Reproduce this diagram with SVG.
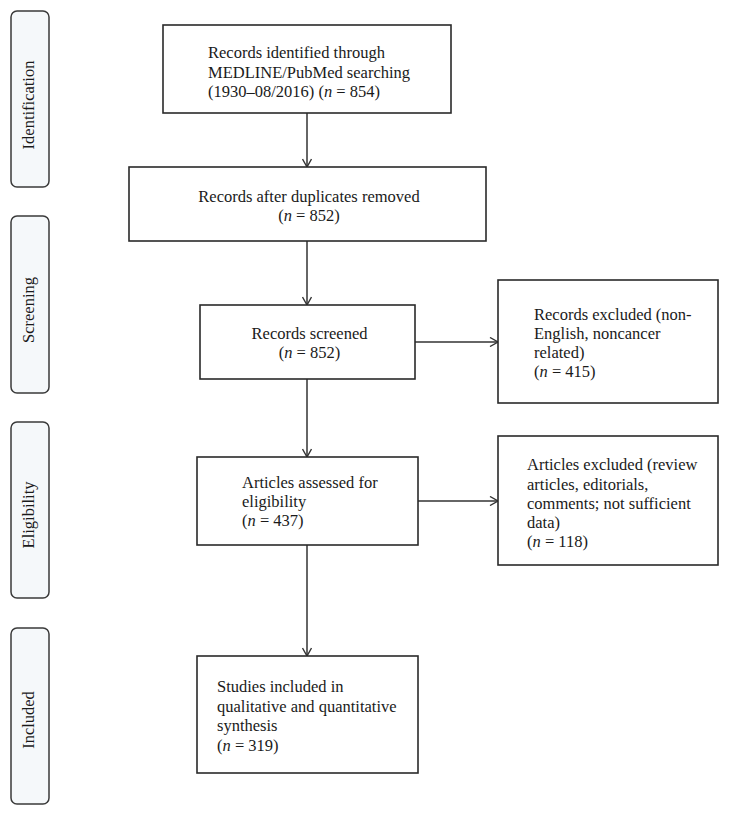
<svg xmlns="http://www.w3.org/2000/svg" width="729" height="815" viewBox="0 0 729 815">
<defs>
<style>
.bg{fill:#ffffff}
.stage{fill:#f5f8fa;stroke:#3a3a3a;stroke-width:1.5}
.box{fill:#ffffff;stroke:#2a2a2a;stroke-width:1.6}
.t{font-family:"Liberation Serif","Times New Roman",serif;font-size:16.5px;fill:#1a1a1a}
.c{text-anchor:middle}
.i{font-style:italic}
.edge{fill:none;stroke:#333333;stroke-width:1.5}
</style>
<marker id="arr" viewBox="0 0 10 10" refX="9" refY="5" markerWidth="10" markerHeight="10" markerUnits="userSpaceOnUse" orient="auto">
<path d="M1,0.5 L9,5 L1,9.5" fill="none" stroke="#333333" stroke-width="1.4"/>
</marker>
</defs>
<rect class="bg" x="0" y="0" width="729" height="815"/>

<g id="stage-identification">
<rect class="stage" x="11" y="11" width="38" height="176" rx="6"/>
<text class="t c" transform="translate(34,105) rotate(-90)">Identification</text>
</g>
<g id="stage-screening">
<rect class="stage" x="11" y="216" width="38" height="177" rx="6"/>
<text class="t c" transform="translate(34,310) rotate(-90)">Screening</text>
</g>
<g id="stage-eligibility">
<rect class="stage" x="11" y="422" width="38" height="176" rx="6"/>
<text class="t c" transform="translate(34,515) rotate(-90)">Eligibility</text>
</g>
<g id="stage-included">
<rect class="stage" x="11" y="628" width="38" height="176" rx="6"/>
<text class="t c" transform="translate(34,720) rotate(-90)">Included</text>
</g>

<g id="connectors">
<line class="edge" x1="307" y1="113" x2="307" y2="167" marker-end="url(#arr)"/>
<line class="edge" x1="307" y1="241" x2="307" y2="305" marker-end="url(#arr)"/>
<line class="edge" x1="307" y1="379" x2="307" y2="457" marker-end="url(#arr)"/>
<line class="edge" x1="307" y1="545" x2="307" y2="656" marker-end="url(#arr)"/>
<line class="edge" x1="415" y1="342" x2="498" y2="342" marker-end="url(#arr)"/>
<line class="edge" x1="418" y1="501" x2="498" y2="501" marker-end="url(#arr)"/>
</g>

<g id="records-identified">
<rect class="box" x="163" y="25" width="288" height="88"/>
<text class="t" x="208" y="58">Records identified through</text>
<text class="t" x="208" y="77.5">MEDLINE/PubMed searching</text>
<text class="t" x="208" y="97">(1930–08/2016) (<tspan class="i">n</tspan> = 854)</text>
</g>

<g id="records-after-duplicates">
<rect class="box" x="129" y="167" width="357" height="74"/>
<text class="t c" x="309" y="202">Records after duplicates removed</text>
<text class="t c" x="309" y="221">(<tspan class="i">n</tspan> = 852)</text>
</g>

<g id="records-screened">
<rect class="box" x="200" y="305" width="215" height="74"/>
<text class="t c" x="309.5" y="339">Records screened</text>
<text class="t c" x="309.5" y="358">(<tspan class="i">n</tspan> = 852)</text>
</g>

<g id="records-excluded">
<rect class="box" x="498" y="280" width="220" height="123"/>
<text class="t" x="534" y="320">Records excluded (non-</text>
<text class="t" x="534" y="339">English, noncancer</text>
<text class="t" x="534" y="358">related)</text>
<text class="t" x="534" y="377">(<tspan class="i">n</tspan> = 415)</text>
</g>

<g id="articles-assessed">
<rect class="box" x="197" y="457" width="221" height="88"/>
<text class="t" x="242" y="488">Articles assessed for</text>
<text class="t" x="242" y="507">eligibility</text>
<text class="t" x="242" y="526">(<tspan class="i">n</tspan> = 437)</text>
</g>

<g id="articles-excluded">
<rect class="box" x="498" y="436" width="220" height="129"/>
<text class="t" x="527" y="470">Articles excluded (review</text>
<text class="t" x="527" y="490">articles, editorials,</text>
<text class="t" x="527" y="509">comments; not sufficient</text>
<text class="t" x="527" y="528">data)</text>
<text class="t" x="527" y="547">(<tspan class="i">n</tspan> = 118)</text>
</g>

<g id="studies-included">
<rect class="box" x="197" y="656" width="221" height="117"/>
<text class="t" x="217" y="692">Studies included in</text>
<text class="t" x="217" y="711.5">qualitative and quantitative</text>
<text class="t" x="217" y="731">synthesis</text>
<text class="t" x="217" y="750.5">(<tspan class="i">n</tspan> = 319)</text>
</g>
</svg>
